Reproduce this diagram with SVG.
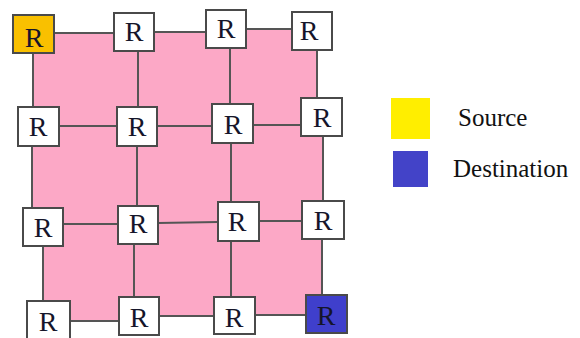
<svg xmlns="http://www.w3.org/2000/svg" width="580" height="338" viewBox="0 0 580 338">
<style>
.node rect{fill:#fff;stroke:#4a4a4a;stroke-width:2}
.node text{font-family:"Liberation Serif","Times New Roman",serif;font-size:28px;fill:#15152a;text-anchor:middle}
.conn line{stroke:#555;stroke-width:2}
.legend text{font-family:"Liberation Serif","Times New Roman",serif;font-size:25px;fill:#111}
</style>
<rect width="580" height="338" fill="#fff"/>
<polygon id="mesh-area" fill="#FCA8C6" points="33,33 134,33 134,32 230,32 230,29 317,29 317,117 323,117 323,315 231,315 231,316 134,316 134,321 43,321 43,227 32,227 32,126 33,126"/>
<g id="connectors" class="conn">
<line x1="54" y1="33" x2="114" y2="33"/>
<line x1="154" y1="32" x2="206" y2="32"/>
<line x1="246" y1="29" x2="292" y2="29"/>
<line x1="59" y1="126" x2="117" y2="126"/>
<line x1="157" y1="126" x2="212" y2="126"/>
<line x1="253" y1="125" x2="301" y2="125"/>
<line x1="63" y1="224" x2="118" y2="224"/>
<line x1="158" y1="223" x2="218" y2="222"/>
<line x1="259" y1="221" x2="302" y2="221"/>
<line x1="70" y1="321" x2="120" y2="321"/>
<line x1="159" y1="316" x2="214" y2="316"/>
<line x1="255" y1="315" x2="306" y2="315"/>
<line x1="33" y1="53" x2="33" y2="107"/>
<line x1="32" y1="146" x2="32" y2="208"/>
<line x1="43" y1="246" x2="43" y2="301"/>
<line x1="138" y1="51" x2="138" y2="107"/>
<line x1="137" y1="146" x2="137" y2="206"/>
<line x1="134" y1="244" x2="134" y2="297"/>
<line x1="230" y1="48" x2="230" y2="104"/>
<line x1="231" y1="143" x2="231" y2="202"/>
<line x1="231" y1="241" x2="231" y2="297"/>
<line x1="317" y1="50" x2="317" y2="98"/>
<line x1="323" y1="136" x2="323" y2="201"/>
<line x1="322" y1="239" x2="322" y2="295"/>
</g>
<g id="r00" class="node"><rect x="13" y="15" width="41" height="38" style="fill:#F9C000"/><text x="34" y="47">R</text></g>
<g id="r01" class="node"><rect x="114" y="13" width="40" height="38"/><text x="134" y="41">R</text></g>
<g id="r02" class="node"><rect x="206" y="10" width="40" height="38"/><text x="226" y="38">R</text></g>
<g id="r03" class="node"><rect x="292" y="12" width="40" height="38"/><text x="309" y="40">R</text></g>
<g id="r10" class="node"><rect x="18" y="107" width="41" height="39"/><text x="38" y="136">R</text></g>
<g id="r11" class="node"><rect x="117" y="107" width="40" height="39"/><text x="137" y="136">R</text></g>
<g id="r12" class="node"><rect x="212" y="104" width="41" height="39"/><text x="233" y="134">R</text></g>
<g id="r13" class="node"><rect x="301" y="98" width="41" height="38"/><text x="322" y="127">R</text></g>
<g id="r20" class="node"><rect x="23" y="208" width="40" height="38"/><text x="43" y="237">R</text></g>
<g id="r21" class="node"><rect x="118" y="206" width="40" height="38"/><text x="138" y="233">R</text></g>
<g id="r22" class="node"><rect x="218" y="202" width="41" height="39"/><text x="237" y="231">R</text></g>
<g id="r23" class="node"><rect x="302" y="201" width="42" height="38"/><text x="323" y="230">R</text></g>
<g id="r30" class="node"><rect x="27" y="301" width="43" height="39"/><text x="48" y="331">R</text></g>
<g id="r31" class="node"><rect x="119" y="297" width="40" height="38"/><text x="139" y="327">R</text></g>
<g id="r32" class="node"><rect x="214" y="297" width="41" height="37"/><text x="234" y="327">R</text></g>
<g id="r33" class="node"><rect x="306" y="295" width="41" height="38" style="fill:#3F3FCC"/><text x="326" y="325">R</text></g>
<g id="legend" class="legend">
<rect x="391" y="98" width="39" height="41" fill="#FFEE00"/>
<rect x="393" y="151" width="35" height="36" fill="#4343C8"/>
<text x="458" y="126">Source</text>
<text x="453" y="177">Destination</text>
</g>
</svg>
